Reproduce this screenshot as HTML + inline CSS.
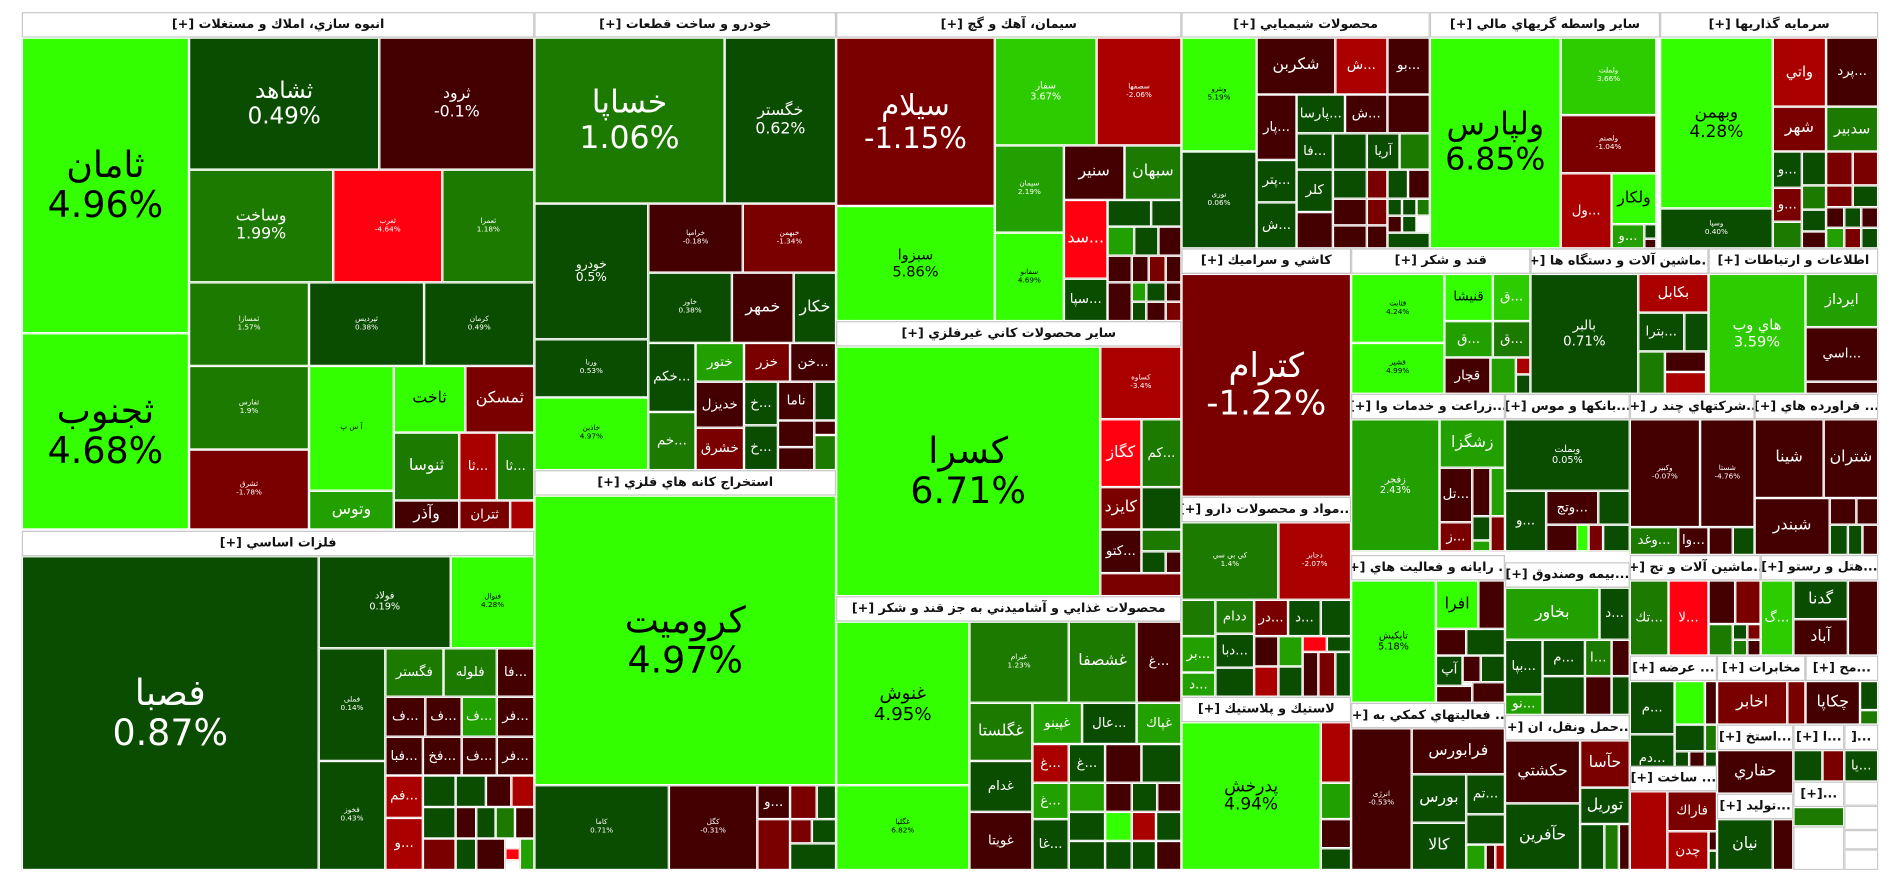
<!DOCTYPE html>
<html><head><meta charset="utf-8">
<style>
html,body{margin:0;padding:0;background:#fff;width:1900px;height:873px;overflow:hidden}
#w{position:absolute;left:0;top:0;width:1568px;height:720px;transform:scale(1.21173);transform-origin:0 0;font-family:"DejaVu Sans","Liberation Sans","Noto Sans CJK SC",sans-serif}
#w i,#w b{position:absolute;box-sizing:border-box;border:1px solid #fff;display:flex;align-items:center;justify-content:center;text-align:center;font-style:normal;color:#fff;overflow:hidden;line-height:1.1;font-size:11px;white-space:pre-line}
#w b{background:#fff;border:1px solid #c8c8c8;color:#111;font-weight:bold;font-size:10.5px;height:21px;white-space:nowrap;direction:rtl}
.a{background:#33ff00;color:#000!important}
.b{background:#2ccc00}
.c{background:#22a000}
.d{background:#1c7a00}
.e{background:#0a4d00}
.f{background:#440000}
.g{background:#7a0000}
.h{background:#aa0000}
.k{background:#ff0010}
.x{background:#fff}
.L{font-size:30px!important}
.M{font-size:19px!important}
.S{font-size:13px!important}
.T{font-size:6px!important}
</style></head><body><div id="w">
<!-- group1 -->
<b style="left:18px;top:10px;width:423px">انبوه سازي، املاك و مستغلات [+]</b>
<i class="a L" style="left:18px;top:31px;width:138px;height:244px">ثامان
4.96%</i>
<i class="a L" style="left:18px;top:275px;width:138px;height:162px">ثجنوب
4.68%</i>
<i class="e M" style="left:156px;top:31px;width:157px;height:109px">ثشاهد
0.49%</i>
<i class="f S" style="left:313px;top:31px;width:128px;height:109px">ثرود
-0.1%</i>
<i class="d S" style="left:156px;top:140px;width:119px;height:93px">وساخت
1.99%</i>
<i class="k T" style="left:275px;top:140px;width:90px;height:93px">ثغرب
-4.64%</i>
<i class="d T" style="left:365px;top:140px;width:76px;height:93px">ثعمرا
1.18%</i>
<i class="d T" style="left:156px;top:233px;width:99px;height:69px">ثمسازا
1.57%</i>
<i class="e T" style="left:255px;top:233px;width:95px;height:69px">ثپردیس
0.38%</i>
<i class="e T" style="left:350px;top:233px;width:91px;height:69px">كرمان
0.49%</i>
<i class="d T" style="left:156px;top:302px;width:99px;height:69px">ثفارس
1.9%</i>
<i class="g T" style="left:156px;top:371px;width:99px;height:66px">ثشرق
-1.78%</i>
<i class="a T" style="left:255px;top:302px;width:70px;height:103px">آ س پ</i>
<i class="c S" style="left:255px;top:405px;width:70px;height:32px">وتوس</i>
<i class="a S" style="left:325px;top:302px;width:59px;height:55px">ثاخت</i>
<i class="g S" style="left:384px;top:302px;width:57px;height:55px">ثمسكن</i>
<i class="d S" style="left:325px;top:357px;width:54px;height:56px">ثنوسا</i>
<i class="f S" style="left:325px;top:413px;width:54px;height:24px">وآذر</i>
<i class="h" style="left:379px;top:357px;width:31px;height:56px">ثا...</i>
<i class="d" style="left:410px;top:357px;width:31px;height:56px">ثا...</i>
<i class="g" style="left:379px;top:413px;width:42px;height:24px">ثتران</i>
<i class="h" style="left:421px;top:413px;width:20px;height:24px"></i>
<!-- group2 -->
<b style="left:18px;top:438px;width:423px">فلزات اساسي [+]</b>
<i class="e L" style="left:18px;top:459px;width:245px;height:259px;color:#fff!important">فصبا
0.87%</i>
<i class="e" style="left:263px;top:459px;width:109px;height:76px;font-size:8px">فولاد
0.19%</i>
<i class="a T" style="left:372px;top:459px;width:69px;height:76px">فنوال
4.28%</i>
<i class="e T" style="left:263px;top:535px;width:55px;height:93px">فملی
0.14%</i>
<i class="e T" style="left:263px;top:628px;width:55px;height:90px">فخوز
0.43%</i>
<i class="d" style="left:318px;top:535px;width:48px;height:40px">فگستر</i>
<i class="d" style="left:366px;top:535px;width:44px;height:40px">فلوله</i>
<i class="f" style="left:410px;top:535px;width:31px;height:40px">فا...</i>
<i class="f" style="left:318px;top:575px;width:33px;height:33px">ف...</i>
<i class="f" style="left:351px;top:575px;width:30px;height:33px">ف...</i>
<i class="c" style="left:381px;top:575px;width:29px;height:33px">ف...</i>
<i class="f" style="left:410px;top:575px;width:31px;height:33px">فر...</i>
<i class="f" style="left:318px;top:608px;width:31px;height:32px">فبا...</i>
<i class="f" style="left:349px;top:608px;width:32px;height:32px">فخ...</i>
<i class="f" style="left:381px;top:608px;width:29px;height:32px">ف...</i>
<i class="f" style="left:410px;top:608px;width:31px;height:32px">فر...</i>
<i class="h" style="left:318px;top:640px;width:31px;height:35px">فم...</i>
<i class="h" style="left:318px;top:675px;width:31px;height:43px">و...</i>
<i class="e" style="left:349px;top:640px;width:27px;height:26px"></i>
<i class="e" style="left:376px;top:640px;width:25px;height:26px"></i>
<i class="f" style="left:401px;top:640px;width:21px;height:26px"></i>
<i class="h" style="left:422px;top:640px;width:19px;height:26px"></i>
<i class="e" style="left:349px;top:666px;width:27px;height:26px"></i>
<i class="f" style="left:376px;top:666px;width:17px;height:26px"></i>
<i class="e" style="left:393px;top:666px;width:16px;height:26px"></i>
<i class="d" style="left:409px;top:666px;width:16px;height:26px"></i>
<i class="f" style="left:425px;top:666px;width:16px;height:26px"></i>
<i class="g" style="left:349px;top:692px;width:27px;height:26px"></i>
<i class="e" style="left:376px;top:692px;width:17px;height:26px"></i>
<i class="f" style="left:393px;top:692px;width:24px;height:26px"></i>
<i class="k" style="left:417px;top:700px;width:12px;height:10px"></i>
<i class="c" style="left:429px;top:692px;width:12px;height:26px"></i>
<!-- group3 -->
<b style="left:441px;top:10px;width:249px">خودرو و ساخت قطعات [+]</b>
<i class="d L" style="left:441px;top:31px;width:157px;height:137px;font-size:26px!important">خساپا
1.06%</i>
<i class="e S" style="left:598px;top:31px;width:92px;height:137px">خگستر
0.62%</i>
<i class="e" style="left:441px;top:168px;width:94px;height:112px;font-size:10px">خودرو
0.5%</i>
<i class="f T" style="left:535px;top:168px;width:78px;height:57px">خرامپا
-0.18%</i>
<i class="g T" style="left:613px;top:168px;width:77px;height:57px">خبهمن
-1.34%</i>
<i class="e T" style="left:535px;top:225px;width:69px;height:58px">خاور
0.38%</i>
<i class="f S" style="left:604px;top:225px;width:51px;height:58px">خمهر</i>
<i class="e S" style="left:655px;top:225px;width:35px;height:58px">خكار</i>
<i class="e T" style="left:441px;top:280px;width:94px;height:48px">ورنا
0.53%</i>
<i class="a T" style="left:441px;top:328px;width:94px;height:60px">خاذین
4.97%</i>
<i class="e" style="left:535px;top:283px;width:39px;height:57px">خكم...</i>
<i class="c" style="left:574px;top:283px;width:40px;height:32px">ختور</i>
<i class="g" style="left:614px;top:283px;width:38px;height:32px">خزر</i>
<i class="f" style="left:652px;top:283px;width:38px;height:32px">خن...</i>
<i class="d" style="left:535px;top:340px;width:39px;height:48px">خم...</i>
<i class="f" style="left:574px;top:315px;width:40px;height:38px">خديزل</i>
<i class="g" style="left:574px;top:353px;width:40px;height:35px">خشرق</i>
<i class="e" style="left:614px;top:315px;width:28px;height:36px">خ...</i>
<i class="f" style="left:642px;top:315px;width:30px;height:32px">ناما</i>
<i class="e" style="left:672px;top:315px;width:18px;height:32px"></i>
<i class="e" style="left:614px;top:351px;width:28px;height:37px">خ...</i>
<i class="f" style="left:642px;top:347px;width:30px;height:22px"></i>
<i class="f" style="left:672px;top:347px;width:18px;height:12px"></i>
<i class="f" style="left:642px;top:369px;width:30px;height:19px"></i>
<i class="d" style="left:672px;top:359px;width:18px;height:29px"></i>
<!-- group4 -->
<b style="left:441px;top:388px;width:249px">استخراج كانه هاي فلزي [+]</b>
<i class="a L" style="left:441px;top:409px;width:249px;height:239px">كروميت
4.97%</i>
<i class="e T" style="left:441px;top:648px;width:111px;height:70px">كاما
0.71%</i>
<i class="f T" style="left:552px;top:648px;width:73px;height:70px">کگل
-0.31%</i>
<i class="f" style="left:625px;top:648px;width:27px;height:28px">و...</i>
<i class="g" style="left:652px;top:648px;width:22px;height:28px"></i>
<i class="e" style="left:674px;top:648px;width:16px;height:28px"></i>
<i class="g" style="left:625px;top:676px;width:27px;height:42px"></i>
<i class="g" style="left:652px;top:676px;width:18px;height:20px"></i>
<i class="e" style="left:670px;top:676px;width:20px;height:20px"></i>
<i class="e" style="left:652px;top:696px;width:38px;height:22px"></i>
<!-- group5 -->
<b style="left:690px;top:10px;width:285px">سيمان، آهك و گچ [+]</b>
<i class="g L" style="left:690px;top:31px;width:131px;height:139px;font-size:24px!important">سيلام
-1.15%</i>
<i class="a" style="left:690px;top:170px;width:131px;height:95px;font-size:12px">سبزوا
5.86%</i>
<i class="b" style="left:821px;top:31px;width:84px;height:89px;font-size:8px">سفار
3.67%</i>
<i class="h T" style="left:905px;top:31px;width:70px;height:89px">سصفها
-2.06%</i>
<i class="c T" style="left:821px;top:120px;width:57px;height:72px">سيمان
2.19%</i>
<i class="f S" style="left:878px;top:120px;width:50px;height:45px">سنير</i>
<i class="d S" style="left:928px;top:120px;width:47px;height:45px">سبهان</i>
<i class="a T" style="left:821px;top:192px;width:57px;height:73px">سفانو
4.69%</i>
<i class="k S" style="left:878px;top:165px;width:36px;height:65px">سد...</i>
<i class="e" style="left:878px;top:230px;width:36px;height:35px">سپا...</i>
<i class="e" style="left:914px;top:165px;width:36px;height:22px"></i>
<i class="e" style="left:950px;top:165px;width:25px;height:22px"></i>
<i class="c" style="left:914px;top:187px;width:22px;height:24px"></i>
<i class="e" style="left:936px;top:187px;width:20px;height:24px"></i>
<i class="f" style="left:956px;top:187px;width:19px;height:24px"></i>
<i class="f" style="left:914px;top:211px;width:20px;height:22px"></i>
<i class="f" style="left:934px;top:211px;width:14px;height:22px"></i>
<i class="g" style="left:948px;top:211px;width:14px;height:22px"></i>
<i class="f" style="left:962px;top:211px;width:13px;height:22px"></i>
<i class="f" style="left:914px;top:233px;width:20px;height:32px"></i>
<i class="c" style="left:934px;top:233px;width:12px;height:16px"></i>
<i class="e" style="left:946px;top:233px;width:16px;height:16px"></i>
<i class="f" style="left:962px;top:233px;width:13px;height:16px"></i>
<i class="e" style="left:934px;top:249px;width:12px;height:16px"></i>
<i class="f" style="left:946px;top:249px;width:16px;height:16px"></i>
<i class="g" style="left:962px;top:249px;width:13px;height:16px"></i>
<!-- group6 -->
<b style="left:690px;top:265px;width:285px">ساير محصولات كاني غيرفلزي [+]</b>
<i class="a L" style="left:690px;top:286px;width:218px;height:206px">كسرا
6.71%</i>
<i class="h T" style="left:908px;top:286px;width:67px;height:60px">كساوه
-3.4%</i>
<i class="k S" style="left:908px;top:346px;width:34px;height:56px">كگاز</i>
<i class="d" style="left:942px;top:346px;width:33px;height:56px">كم...</i>
<i class="g S" style="left:908px;top:402px;width:34px;height:35px">كايزد</i>
<i class="e" style="left:942px;top:402px;width:33px;height:35px"></i>
<i class="f" style="left:908px;top:437px;width:34px;height:36px">كتو...</i>
<i class="d" style="left:942px;top:437px;width:33px;height:18px"></i>
<i class="e" style="left:942px;top:455px;width:20px;height:18px"></i>
<i class="f" style="left:962px;top:455px;width:13px;height:18px"></i>
<i class="g" style="left:908px;top:473px;width:67px;height:19px"></i>
<!-- group7 -->
<b style="left:690px;top:492px;width:285px">محصولات غذايي و آشاميدني به جز قند و شكر [+]</b>
<i class="a" style="left:690px;top:513px;width:110px;height:135px;font-size:15px">غنوش
4.95%</i>
<i class="a T" style="left:690px;top:648px;width:110px;height:70px">غگلپا
6.82%</i>
<i class="d T" style="left:800px;top:513px;width:82px;height:67px">غبرام
1.23%</i>
<i class="d S" style="left:882px;top:513px;width:56px;height:67px">غشصفا</i>
<i class="f" style="left:938px;top:513px;width:37px;height:67px">غ...</i>
<i class="d S" style="left:800px;top:580px;width:52px;height:48px">غگلستا</i>
<i class="c" style="left:852px;top:580px;width:41px;height:34px">غپينو</i>
<i class="e" style="left:893px;top:580px;width:45px;height:34px">عال...</i>
<i class="c" style="left:938px;top:580px;width:37px;height:34px">غپاك</i>
<i class="e" style="left:800px;top:628px;width:52px;height:42px">غدام</i>
<i class="f" style="left:800px;top:670px;width:52px;height:48px">غويتا</i>
<i class="h" style="left:852px;top:614px;width:30px;height:32px">غ...</i>
<i class="e" style="left:882px;top:614px;width:30px;height:32px">غ...</i>
<i class="f" style="left:912px;top:614px;width:30px;height:32px"></i>
<i class="e" style="left:942px;top:614px;width:33px;height:32px"></i>
<i class="c" style="left:852px;top:646px;width:30px;height:30px">غ...</i>
<i class="c" style="left:882px;top:646px;width:30px;height:24px"></i>
<i class="f" style="left:912px;top:646px;width:22px;height:24px"></i>
<i class="e" style="left:934px;top:646px;width:21px;height:24px"></i>
<i class="f" style="left:955px;top:646px;width:20px;height:24px"></i>
<i class="e" style="left:852px;top:676px;width:30px;height:42px">غا...</i>
<i class="e" style="left:882px;top:670px;width:30px;height:24px"></i>
<i class="a" style="left:912px;top:670px;width:22px;height:24px"></i>
<i class="h" style="left:934px;top:670px;width:20px;height:24px"></i>
<i class="e" style="left:954px;top:670px;width:21px;height:24px"></i>
<i class="e" style="left:882px;top:694px;width:30px;height:24px"></i>
<i class="e" style="left:912px;top:694px;width:22px;height:24px"></i>
<i class="e" style="left:934px;top:694px;width:20px;height:24px"></i>
<i class="f" style="left:954px;top:694px;width:21px;height:24px"></i>
<!-- group8 chemicals -->
<b style="left:975px;top:10px;width:205px">محصولات شيميايي [+]</b>
<i class="a T" style="left:975px;top:31px;width:62px;height:94px">وبترو
5.19%</i>
<i class="e T" style="left:975px;top:125px;width:62px;height:80px">نوری
0.06%</i>
<i class="f S" style="left:1037px;top:31px;width:65px;height:47px">شكربن</i>
<i class="h" style="left:1102px;top:31px;width:43px;height:47px">ش...</i>
<i class="f" style="left:1145px;top:31px;width:35px;height:47px">بو...</i>
<i class="f" style="left:1037px;top:78px;width:33px;height:54px">پار...</i>
<i class="e" style="left:1070px;top:78px;width:40px;height:32px">پارسا...</i>
<i class="f" style="left:1110px;top:78px;width:35px;height:32px">ش...</i>
<i class="f" style="left:1145px;top:78px;width:35px;height:32px"></i>
<i class="e" style="left:1037px;top:132px;width:33px;height:35px">پتر...</i>
<i class="e" style="left:1037px;top:167px;width:33px;height:38px">ش...</i>
<i class="e" style="left:1070px;top:110px;width:30px;height:30px">فا...</i>
<i class="e" style="left:1100px;top:110px;width:28px;height:30px"></i>
<i class="e" style="left:1128px;top:110px;width:27px;height:30px">آريا</i>
<i class="d" style="left:1155px;top:110px;width:25px;height:30px"></i>
<i class="e" style="left:1070px;top:140px;width:30px;height:35px">كلر</i>
<i class="f" style="left:1070px;top:175px;width:30px;height:30px"></i>
<i class="e" style="left:1100px;top:140px;width:28px;height:24px"></i>
<i class="g" style="left:1128px;top:140px;width:17px;height:24px"></i>
<i class="e" style="left:1145px;top:140px;width:17px;height:24px"></i>
<i class="f" style="left:1162px;top:140px;width:18px;height:24px"></i>
<i class="f" style="left:1100px;top:164px;width:28px;height:22px"></i>
<i class="f" style="left:1100px;top:186px;width:28px;height:19px"></i>
<i class="g" style="left:1128px;top:164px;width:17px;height:22px"></i>
<i class="e" style="left:1145px;top:164px;width:12px;height:14px"></i>
<i class="e" style="left:1157px;top:164px;width:12px;height:14px"></i>
<i class="d" style="left:1169px;top:164px;width:11px;height:14px"></i>
<i class="f" style="left:1145px;top:178px;width:12px;height:14px"></i>
<i class="e" style="left:1157px;top:178px;width:12px;height:14px"></i>
<i class="f" style="left:1128px;top:186px;width:17px;height:19px"></i>
<i class="e" style="left:1145px;top:192px;width:35px;height:13px"></i>
<!-- group9 -->
<b style="left:1180px;top:10px;width:190px">ساير واسطه گريهاي مالي [+]</b>
<i class="a L" style="left:1180px;top:31px;width:108px;height:174px;font-size:26px!important">ولپارس
6.85%</i>
<i class="b T" style="left:1288px;top:31px;width:79px;height:64px">ولملت
3.66%</i>
<i class="g T" style="left:1288px;top:95px;width:79px;height:48px">ولصنم
-1.04%</i>
<i class="h" style="left:1288px;top:143px;width:42px;height:62px">ول...</i>
<i class="a S" style="left:1330px;top:143px;width:37px;height:42px">ولكار</i>
<i class="c" style="left:1330px;top:185px;width:27px;height:20px">و...</i>
<i class="e" style="left:1357px;top:185px;width:10px;height:12px"></i>
<i class="f" style="left:1357px;top:197px;width:10px;height:8px"></i>
<!-- group10 -->
<b style="left:1370px;top:10px;width:180px">سرمايه گذاريها [+]</b>
<i class="a" style="left:1370px;top:31px;width:93px;height:141px;font-size:14px">وبهمن
4.28%</i>
<i class="e T" style="left:1370px;top:172px;width:93px;height:33px">وسپا
0.40%</i>
<i class="h" style="left:1463px;top:31px;width:44px;height:57px;font-size:12px">واتي</i>
<i class="f" style="left:1507px;top:31px;width:43px;height:57px">پرد...</i>
<i class="g S" style="left:1463px;top:88px;width:44px;height:37px">شهر</i>
<i class="d" style="left:1507px;top:88px;width:43px;height:37px;font-size:12px">سدبير</i>
<i class="e" style="left:1463px;top:125px;width:24px;height:30px">و...</i>
<i class="g" style="left:1463px;top:155px;width:24px;height:28px">و...</i>
<i class="d" style="left:1463px;top:183px;width:24px;height:22px"></i>
<i class="e" style="left:1487px;top:125px;width:20px;height:28px"></i>
<i class="d" style="left:1487px;top:153px;width:20px;height:20px"></i>
<i class="e" style="left:1487px;top:173px;width:20px;height:18px"></i>
<i class="f" style="left:1487px;top:191px;width:20px;height:14px"></i>
<i class="g" style="left:1507px;top:125px;width:22px;height:28px"></i>
<i class="g" style="left:1529px;top:125px;width:21px;height:28px"></i>
<i class="g" style="left:1507px;top:153px;width:22px;height:18px"></i>
<i class="e" style="left:1529px;top:153px;width:21px;height:18px"></i>
<i class="f" style="left:1507px;top:171px;width:15px;height:17px"></i>
<i class="e" style="left:1522px;top:171px;width:14px;height:17px"></i>
<i class="f" style="left:1536px;top:171px;width:14px;height:17px"></i>
<i class="c" style="left:1507px;top:188px;width:15px;height:17px"></i>
<i class="g" style="left:1522px;top:188px;width:14px;height:17px"></i>
<i class="e" style="left:1536px;top:188px;width:14px;height:17px"></i>
<!-- kashi -->
<b style="left:975px;top:205px;width:140px">كاشي و سراميك [+]</b>
<i class="g L" style="left:975px;top:226px;width:140px;height:184px;font-size:28px!important">كترام
-1.22%</i>
<b style="left:975px;top:410px;width:140px">...مواد و محصولات دارو [+]</b>
<i class="d T" style="left:975px;top:431px;width:80px;height:64px">كي بي سي
1.4%</i>
<i class="h T" style="left:1055px;top:431px;width:60px;height:64px">دجابر
-2.07%</i>
<i class="d" style="left:975px;top:495px;width:28px;height:30px"></i>
<i class="c" style="left:975px;top:525px;width:28px;height:30px">بر...</i>
<i class="c" style="left:975px;top:555px;width:28px;height:20px">د...</i>
<i class="d" style="left:1003px;top:495px;width:32px;height:28px">ددام</i>
<i class="e" style="left:1003px;top:523px;width:32px;height:28px">دبا...</i>
<i class="e" style="left:1003px;top:551px;width:32px;height:24px"></i>
<i class="g" style="left:1035px;top:495px;width:28px;height:30px">در...</i>
<i class="e" style="left:1063px;top:495px;width:27px;height:30px">د...</i>
<i class="e" style="left:1090px;top:495px;width:25px;height:30px"></i>
<i class="f" style="left:1035px;top:525px;width:20px;height:25px"></i>
<i class="c" style="left:1055px;top:525px;width:20px;height:25px"></i>
<i class="k" style="left:1075px;top:525px;width:20px;height:13px"></i>
<i class="e" style="left:1095px;top:525px;width:20px;height:13px"></i>
<i class="h" style="left:1035px;top:550px;width:20px;height:25px"></i>
<i class="e" style="left:1055px;top:550px;width:20px;height:25px"></i>
<i class="f" style="left:1075px;top:538px;width:13px;height:37px"></i>
<i class="g" style="left:1088px;top:538px;width:14px;height:37px"></i>
<i class="e" style="left:1102px;top:538px;width:13px;height:37px"></i>
<b style="left:975px;top:575px;width:140px">لاستيك و پلاستيك [+]</b>
<i class="a" style="left:975px;top:596px;width:115px;height:122px;font-size:14px">پدرخش
4.94%</i>
<i class="h" style="left:1090px;top:596px;width:25px;height:50px"></i>
<i class="c" style="left:1090px;top:646px;width:25px;height:30px"></i>
<i class="f" style="left:1090px;top:676px;width:25px;height:24px"></i>
<i class="e" style="left:1090px;top:700px;width:25px;height:18px"></i>
<!-- qand -->
<b style="left:1115px;top:205px;width:148px">قند و شكر [+]</b>
<i class="a T" style="left:1115px;top:226px;width:77px;height:57px">قثابت
4.24%</i>
<i class="a T" style="left:1115px;top:283px;width:77px;height:42px">قشير
4.99%</i>
<i class="a" style="left:1192px;top:226px;width:40px;height:39px">قنيشا</i>
<i class="b" style="left:1232px;top:226px;width:31px;height:39px">ق...</i>
<i class="c" style="left:1192px;top:265px;width:40px;height:30px">ق...</i>
<i class="d" style="left:1232px;top:265px;width:31px;height:30px">ق...</i>
<i class="f" style="left:1192px;top:295px;width:38px;height:30px">قچار</i>
<i class="c" style="left:1230px;top:295px;width:21px;height:30px"></i>
<i class="h" style="left:1251px;top:295px;width:12px;height:14px"></i>
<i class="e" style="left:1251px;top:309px;width:12px;height:16px"></i>
<!-- machinery -->
<b style="left:1263px;top:205px;width:147px">...ماشين آلات و دستگاه ها [+]</b>
<i class="e" style="left:1263px;top:226px;width:89px;height:99px;font-size:11px">بالبر
0.71%</i>
<i class="h" style="left:1352px;top:226px;width:58px;height:32px;font-size:12px">بكابل</i>
<i class="e" style="left:1352px;top:258px;width:38px;height:32px">بترا...</i>
<i class="e" style="left:1390px;top:258px;width:20px;height:32px"></i>
<i class="d" style="left:1352px;top:290px;width:22px;height:35px"></i>
<i class="f" style="left:1374px;top:290px;width:34px;height:17px"></i>
<i class="h" style="left:1374px;top:307px;width:34px;height:18px"></i>
<!-- info -->
<b style="left:1410px;top:205px;width:140px">اطلاعات و ارتباطات [+]</b>
<i class="b" style="left:1410px;top:226px;width:80px;height:99px;font-size:12px">هاي وب
3.59%</i>
<i class="c" style="left:1490px;top:226px;width:60px;height:44px;font-size:12px">ايرداز</i>
<i class="f" style="left:1490px;top:270px;width:60px;height:45px">اسي...</i>
<i class="f" style="left:1490px;top:315px;width:60px;height:10px"></i>
<!-- zeraat -->
<b style="left:1115px;top:325px;width:127px">...زراعت و خدمات وا [+]</b>
<i class="c T" style="left:1115px;top:346px;width:73px;height:109px;font-size:8px!important">زفجر
2.43%</i>
<i class="c S" style="left:1188px;top:346px;width:54px;height:40px">زشگزا</i>
<i class="f" style="left:1188px;top:386px;width:27px;height:45px">تل...</i>
<i class="g" style="left:1188px;top:431px;width:27px;height:24px">ز...</i>
<i class="f" style="left:1215px;top:386px;width:15px;height:40px"></i>
<i class="c" style="left:1230px;top:386px;width:12px;height:40px"></i>
<i class="e" style="left:1215px;top:426px;width:15px;height:20px"></i>
<i class="c" style="left:1215px;top:446px;width:15px;height:9px"></i>
<i class="g" style="left:1230px;top:426px;width:12px;height:29px"></i>
<!-- banks -->
<b style="left:1242px;top:325px;width:103px">...بانكها و موس [+]</b>
<i class="e" style="left:1242px;top:346px;width:103px;height:59px;font-size:8px">وبملت
0.05%</i>
<i class="e" style="left:1242px;top:405px;width:34px;height:50px">و...</i>
<i class="f" style="left:1276px;top:405px;width:43px;height:28px">وتج...</i>
<i class="f" style="left:1276px;top:433px;width:43px;height:22px"></i>
<i class="e" style="left:1319px;top:405px;width:26px;height:28px"></i>
<i class="a" style="left:1301px;top:433px;width:10px;height:22px"></i>
<i class="g" style="left:1311px;top:433px;width:12px;height:22px"></i>
<i class="e" style="left:1323px;top:433px;width:22px;height:22px"></i>
<!-- chand reshte -->
<b style="left:1345px;top:325px;width:103px">...شركتهاي چند ر [+]</b>
<i class="f T" style="left:1345px;top:346px;width:58px;height:89px">وكبير
-0.07%</i>
<i class="f T" style="left:1403px;top:346px;width:45px;height:89px">شستا
-4.76%</i>
<i class="d" style="left:1345px;top:435px;width:40px;height:23px">وغد...</i>
<i class="f" style="left:1385px;top:435px;width:25px;height:23px">وا...</i>
<i class="f" style="left:1410px;top:435px;width:20px;height:23px"></i>
<i class="e" style="left:1430px;top:435px;width:18px;height:23px"></i>
<!-- faravarde -->
<b style="left:1448px;top:325px;width:102px">... فراورده هاي [+]</b>
<i class="f S" style="left:1448px;top:346px;width:57px;height:65px">شينا</i>
<i class="f S" style="left:1505px;top:346px;width:45px;height:65px">شتران</i>
<i class="f S" style="left:1448px;top:411px;width:62px;height:47px">شبندر</i>
<i class="f" style="left:1510px;top:411px;width:22px;height:22px"></i>
<i class="f" style="left:1532px;top:411px;width:18px;height:22px"></i>
<i class="e" style="left:1510px;top:433px;width:15px;height:25px"></i>
<i class="e" style="left:1525px;top:433px;width:12px;height:25px"></i>
<i class="f" style="left:1537px;top:433px;width:13px;height:25px"></i>
<!-- rayane -->
<b style="left:1115px;top:458px;width:127px">... رايانه و فعاليت هاي [+]</b>
<i class="a T" style="left:1115px;top:479px;width:70px;height:101px;font-size:8px!important">تاپكيش
5.18%</i>
<i class="a S" style="left:1185px;top:479px;width:35px;height:40px">افرا</i>
<i class="f" style="left:1220px;top:479px;width:22px;height:40px"></i>
<i class="f" style="left:1185px;top:519px;width:25px;height:22px"></i>
<i class="e" style="left:1210px;top:519px;width:32px;height:22px"></i>
<i class="e" style="left:1185px;top:541px;width:22px;height:25px">آپ</i>
<i class="f" style="left:1207px;top:541px;width:15px;height:22px"></i>
<i class="e" style="left:1222px;top:541px;width:20px;height:22px"></i>
<i class="f" style="left:1185px;top:566px;width:30px;height:14px"></i>
<i class="f" style="left:1215px;top:563px;width:27px;height:17px"></i>
<!-- bime -->
<b style="left:1242px;top:464px;width:103px">...بيمه وصندوق [+]</b>
<i class="c S" style="left:1242px;top:485px;width:78px;height:43px">بخاور</i>
<i class="e" style="left:1320px;top:485px;width:25px;height:43px">د...</i>
<i class="e" style="left:1242px;top:528px;width:31px;height:45px">بپا...</i>
<i class="e" style="left:1273px;top:528px;width:35px;height:30px">م...</i>
<i class="d" style="left:1308px;top:528px;width:22px;height:30px">ا...</i>
<i class="f" style="left:1330px;top:528px;width:15px;height:30px"></i>
<i class="c" style="left:1242px;top:573px;width:31px;height:17px">نو...</i>
<i class="e" style="left:1273px;top:558px;width:35px;height:32px"></i>
<i class="f" style="left:1308px;top:558px;width:22px;height:32px"></i>
<i class="e" style="left:1330px;top:558px;width:15px;height:32px"></i>
<!-- hamlo naghl -->
<b style="left:1242px;top:590px;width:103px">...حمل ونقل، ان [+]</b>
<i class="f S" style="left:1242px;top:611px;width:62px;height:52px">حكشتي</i>
<i class="g S" style="left:1304px;top:611px;width:41px;height:39px">حآسا</i>
<i class="e S" style="left:1304px;top:650px;width:41px;height:30px">توريل</i>
<i class="e S" style="left:1242px;top:663px;width:62px;height:55px">حآفرين</i>
<i class="e" style="left:1304px;top:680px;width:20px;height:38px"></i>
<i class="d" style="left:1324px;top:680px;width:12px;height:38px"></i>
<i class="f" style="left:1336px;top:680px;width:9px;height:38px"></i>
<!-- faaliat komaki -->
<b style="left:1115px;top:580px;width:127px">... فعاليتهاي كمكي به [+]</b>
<i class="f T" style="left:1115px;top:601px;width:50px;height:117px">انرژی
-0.53%</i>
<i class="f S" style="left:1165px;top:601px;width:77px;height:38px">فرابورس</i>
<i class="e S" style="left:1165px;top:639px;width:45px;height:40px">بورس</i>
<i class="e" style="left:1210px;top:639px;width:32px;height:33px">تم...</i>
<i class="e S" style="left:1165px;top:679px;width:45px;height:39px">كالا</i>
<i class="e" style="left:1210px;top:672px;width:32px;height:25px"></i>
<i class="c" style="left:1210px;top:697px;width:16px;height:21px"></i>
<i class="f" style="left:1226px;top:697px;width:8px;height:21px"></i>
<i class="h" style="left:1234px;top:697px;width:8px;height:21px"></i>
<!-- machinery tej -->
<b style="left:1345px;top:458px;width:108px">...ماشين آلات و تج [+]</b>
<i class="d" style="left:1345px;top:479px;width:32px;height:62px">تك...</i>
<i class="k" style="left:1377px;top:479px;width:33px;height:62px">لا...</i>
<i class="f" style="left:1410px;top:479px;width:22px;height:36px"></i>
<i class="g" style="left:1432px;top:479px;width:21px;height:36px"></i>
<i class="d" style="left:1410px;top:515px;width:20px;height:26px"></i>
<i class="e" style="left:1430px;top:515px;width:12px;height:13px"></i>
<i class="g" style="left:1442px;top:515px;width:11px;height:13px"></i>
<i class="d" style="left:1430px;top:528px;width:12px;height:13px"></i>
<i class="f" style="left:1442px;top:528px;width:11px;height:13px"></i>
<!-- hotel -->
<b style="left:1453px;top:458px;width:97px">...هتل و رستو [+]</b>
<i class="b" style="left:1453px;top:479px;width:27px;height:62px">گ...</i>
<i class="e S" style="left:1480px;top:479px;width:45px;height:32px">گدنا</i>
<i class="f S" style="left:1480px;top:511px;width:45px;height:30px">آباد</i>
<i class="f" style="left:1525px;top:479px;width:25px;height:62px"></i>
<!-- arze -->
<b style="left:1345px;top:541px;width:72px">... عرضه [+]</b>
<i class="e" style="left:1345px;top:562px;width:37px;height:44px">م...</i>
<i class="e" style="left:1345px;top:606px;width:37px;height:40px">دم...</i>
<i class="a" style="left:1382px;top:562px;width:25px;height:36px"></i>
<i class="f" style="left:1407px;top:562px;width:10px;height:36px"></i>
<i class="e" style="left:1382px;top:598px;width:25px;height:22px"></i>
<i class="d" style="left:1407px;top:598px;width:10px;height:22px"></i>
<i class="e" style="left:1382px;top:620px;width:12px;height:26px"></i>
<i class="f" style="left:1394px;top:620px;width:13px;height:26px"></i>
<i class="e" style="left:1407px;top:620px;width:10px;height:26px"></i>
<!-- sakht -->
<b style="left:1345px;top:632px;width:72px">... ساخت [+]</b>
<i class="h" style="left:1345px;top:653px;width:31px;height:65px"></i>
<i class="g" style="left:1376px;top:653px;width:41px;height:33px">فاراك</i>
<i class="h" style="left:1376px;top:686px;width:34px;height:32px">چدن</i>
<i class="f" style="left:1410px;top:686px;width:7px;height:16px"></i>
<i class="e" style="left:1410px;top:702px;width:7px;height:16px"></i>
<!-- mokhaberat -->
<b style="left:1417px;top:541px;width:73px">مخابرات [+]</b>
<i class="g S" style="left:1417px;top:562px;width:58px;height:36px">اخابر</i>
<i class="g" style="left:1475px;top:562px;width:15px;height:36px"></i>
<b style="left:1490px;top:541px;width:60px">...مح [+]</b>
<i class="f S" style="left:1490px;top:562px;width:45px;height:36px">چكاپا</i>
<i class="e" style="left:1535px;top:562px;width:15px;height:24px"></i>
<i class="d" style="left:1535px;top:586px;width:15px;height:12px"></i>
<!-- estekh -->
<b style="left:1417px;top:598px;width:63px">...استخ [+]</b>
<i class="f S" style="left:1417px;top:619px;width:63px;height:36px">حفاري</i>
<b style="left:1417px;top:655px;width:63px">...توليد [+]</b>
<i class="e S" style="left:1417px;top:676px;width:46px;height:42px">نيان</i>
<i class="f" style="left:1463px;top:676px;width:17px;height:42px"></i>
<b style="left:1480px;top:598px;width:42px">...ا [+]</b>
<i class="e" style="left:1480px;top:619px;width:24px;height:26px"></i>
<i class="g" style="left:1504px;top:619px;width:18px;height:26px"></i>
<b style="left:1522px;top:598px;width:28px">...[</b>
<i class="e" style="left:1522px;top:619px;width:28px;height:26px">يا...</i>
<b style="left:1480px;top:645px;width:42px">...[+]</b>
<i class="d" style="left:1480px;top:666px;width:42px;height:16px"></i>
<i class="x" style="left:1480px;top:682px;width:42px;height:36px;border-color:#ccc"></i>
<i class="x" style="left:1522px;top:645px;width:28px;height:20px;border-color:#ccc"></i>
<i class="x" style="left:1522px;top:665px;width:28px;height:20px;border-color:#ccc"></i>
<i class="x" style="left:1522px;top:685px;width:28px;height:16px;border-color:#ccc"></i>
<i class="x" style="left:1522px;top:701px;width:28px;height:17px;border-color:#ccc"></i>
</div></body></html>
